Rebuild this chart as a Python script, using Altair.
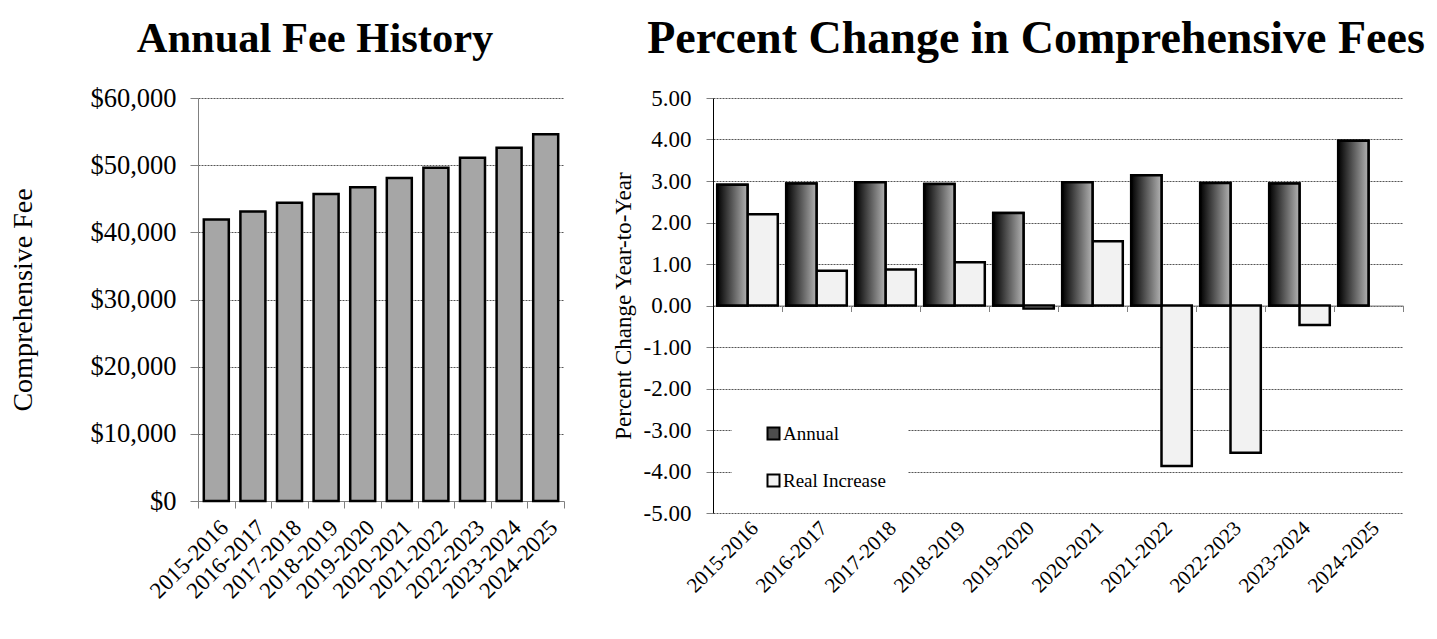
import altair as alt
import pandas as pd

# ---------------- data ----------------
years = ["2015-2016", "2016-2017", "2017-2018", "2018-2019", "2019-2020",
         "2020-2021", "2021-2022", "2022-2023", "2023-2024", "2024-2025"]
fees = [41900, 43100, 44400, 45700, 46700, 48100, 49600, 51100, 52600, 54600]
annual_pct = [2.91, 2.94, 2.97, 2.93, 2.23, 2.97, 3.14, 2.95, 2.94, 3.97]
real_pct = [2.20, 0.84, 0.87, 1.04, -0.07, 1.55, -3.87, -3.55, -0.47, None]
series_names = ["Annual", "Real Increase"]
fee_ticks = [0, 10000, 20000, 30000, 40000, 50000, 60000]
pct_ticks = [-5, -4, -3, -2, -1, 0, 1, 2, 3, 4, 5]

FONT = "Liberation Serif"

fee_df = pd.DataFrame({"year": years, "fee": fees})
rows = []
for yr, a, r in zip(years, annual_pct, real_pct):
    rows.append({"year": yr, "series": "Annual", "value": a})
    if r is not None:
        rows.append({"year": yr, "series": "Real Increase", "value": r})
pct_df = pd.DataFrame(rows)

# ---------------- left chart ----------------
left_y_axis = alt.Axis(
    values=fee_ticks, format="$,.0f", title="Comprehensive Fee",
    labelFont=FONT, labelFontSize=26.5, labelColor="black", labelPadding=14,
    tickSize=8, tickColor="#808080", domainColor="#808080",
    grid=True, gridColor="#555555", gridDash=[2, 1],
    titleFont=FONT, titleFontSize=28, titleFontWeight="normal",
    titleColor="black", titlePadding=52,
)
left_x_axis = alt.Axis(
    title=None, labelAngle=-45, labelFont=FONT, labelFontSize=23,
    labelColor="black", labelPadding=8, labelOverlap=False,
    tickBand="extent", tickSize=7, tickColor="#808080",
    domainColor="#808080", grid=False,
)

left = alt.Chart(fee_df).mark_bar(
    fill="#a6a6a6", stroke="black", strokeWidth=2.5,
    width=alt.RelativeBandSize(0.683),
).encode(
    x=alt.X("year:N", sort=years, scale=alt.Scale(paddingInner=0, paddingOuter=0), axis=left_x_axis),
    y=alt.Y("fee:Q", scale=alt.Scale(domain=[0, 60000], nice=False), axis=left_y_axis),
).properties(
    width=366, height=403,
    title=alt.TitleParams("Annual Fee History", font=FONT, fontSize=42.5,
                          fontWeight="bold", color="black", anchor="middle",
                          dx=-66, offset=24.5),
)

# ---------------- right chart ----------------
gradient = alt.LinearGradient(
    gradient="linear",
    stops=[alt.GradientStop(offset=0, color="#000000"),
           alt.GradientStop(offset=1, color="#b3b3b3")],
    x1=0, x2=1, y1=0, y2=0,
)

right_y_axis = alt.Axis(
    values=pct_ticks,
    labelExpr="(datum.value < 0 ? '-' : '') + format(abs(datum.value), '.2f')",
    title="Percent Change Year-to-Year",
    labelFont=FONT, labelFontSize=23, labelColor="black", labelPadding=15,
    tickSize=7, tickColor="#808080", domainColor="black",
    grid=True, gridColor="#555555", gridDash=[2, 1],
    titleFont=FONT, titleFontSize=23, titleFontWeight="normal",
    titleColor="black", titlePadding=8,
)
label_axis = alt.Axis(
    orient="bottom", title=None, domain=False, ticks=False, grid=False,
    labelAngle=-45, labelFont=FONT, labelFontSize=21, labelColor="black",
    labelPadding=4, labelOverlap=False,
)
zero_axis = alt.Axis(
    orient="bottom", offset=-207.5, labels=False, title=None, grid=False,
    domain=True, domainColor="#808080", ticks=True, tickBand="extent",
    tickSize=6, tickColor="#808080",
)

x_scale = alt.Scale(paddingInner=0, paddingOuter=0)
off_scale = alt.Scale(domain=series_names, paddingInner=0, paddingOuter=0.139)
y_scale = alt.Scale(domain=[-5, 5], nice=False)

base = alt.Chart(pct_df)
bars_all = base.mark_bar(stroke="black", strokeWidth=2.5).encode(
    x=alt.X("year:N", sort=years, scale=x_scale, axis=label_axis),
    xOffset=alt.XOffset("series:N", sort=series_names, scale=off_scale),
    y=alt.Y("value:Q", scale=y_scale, axis=right_y_axis),
    fill=alt.Fill(
        "series:N",
        scale=alt.Scale(domain=series_names, range=["#4d4d4d", "#f2f2f2"]),
        legend=alt.Legend(
            title=None, orient="none", legendX=19, legendY=304,
            fillColor="white", padding=22, symbolType="square",
            symbolSize=144, symbolStrokeColor="black", symbolStrokeWidth=2,
            symbolOffset=10, labelFont=FONT, labelFontSize=19,
            labelColor="black", rowPadding=26, labelOffset=0,
            labelExpr="datum.label + '\u00a0\u00a0\u00a0\u00a0\u00a0\u00a0\u00a0\u00a0\u00a0\u00a0'",
        ),
    ),
)
bars_annual = base.transform_filter(alt.datum.series == "Annual").mark_bar(
    fill=gradient, stroke="black", strokeWidth=2.5,
).encode(
    x=alt.X("year:N", sort=years, scale=x_scale, axis=zero_axis),
    xOffset=alt.XOffset("series:N", sort=series_names, scale=off_scale),
    y=alt.Y("value:Q", scale=y_scale, axis=right_y_axis),
)

right = alt.layer(bars_all, bars_annual).resolve_axis(x="independent").properties(
    width=690, height=415,
    title=alt.TitleParams("Percent Change in Comprehensive Fees", font=FONT,
                          fontSize=46, fontWeight="bold", color="black",
                          anchor="middle", dx=-22, offset=24),
)

chart = alt.hconcat(left, right, spacing=47).resolve_scale(
    fill="independent"
).resolve_legend(fill="independent").properties(
    padding={"left": 1, "top": 8, "right": 2, "bottom": 2},
    background="white",
).configure_view(stroke=None)

chart.save("out.html", embed_options={"renderer": "svg", "actions": False})
